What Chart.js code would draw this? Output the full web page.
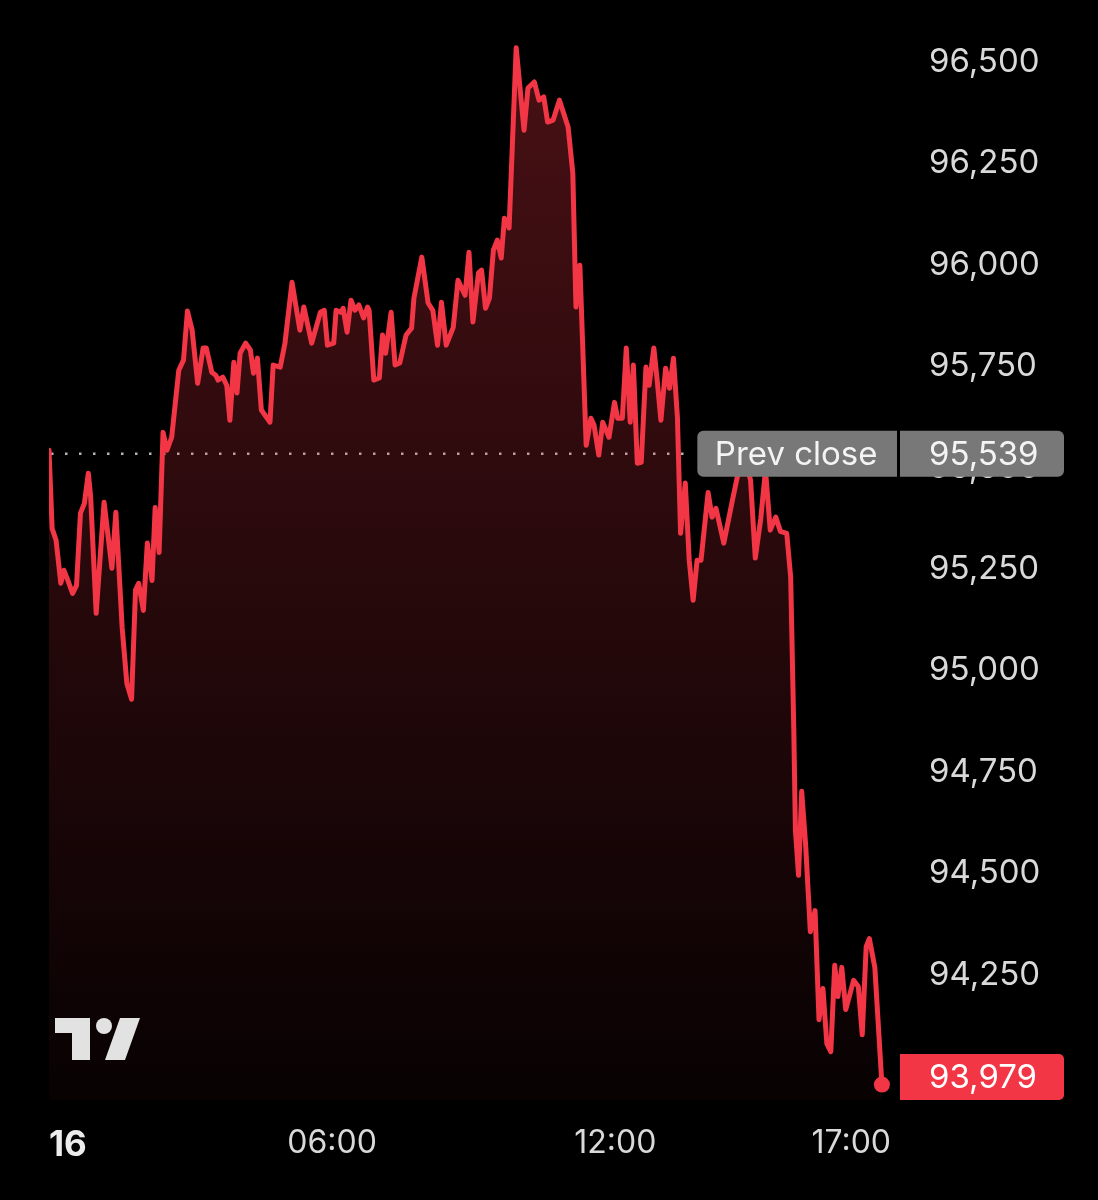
<!DOCTYPE html>
<html>
<head>
<meta charset="utf-8">
<script src="https://cdn.jsdelivr.net/npm/chart.js@4.4.1/dist/chart.umd.min.js"></script>
<style>
html,body{margin:0;padding:0;background:#000;}
#wrap{width:1098px;height:1200px;position:relative;}
</style>
</head>
<body>
<div id="wrap"><canvas id="c" width="1098" height="1200"></canvas></div>
<script>
// minutes since 00:00 on the 16th
const times = [0,4,9,15,19,24,30,35,40,45,
50,53,60,70,80,85,93,99,105,110,
114,120,125,131,135,140,145,150,156,165,
171,176,182,189,196,200,207,212,215,221,
226,230,235,239,243,250,256,260,265,270,
281,285,294,300,309,319,324,334,345,350,
354,362,365,371,374,379,384,389,394,400,
405,407,413,420,424,428,435,440,446,454,
461,464,474,482,488,494,499,505,514,520,
529,534,539,546,550,555,560,565,570,575,
579,585,594,604,609,617,623,629,634,641,
649,660,666,670,675,683,689,693,699,704,
712,719,723,729,734,739,743,748,753,759,
763,769,773,778,784,789,794,799,803,809,
814,819,824,829,838,843,848,858,869,877,
884,892,898,905,911,917,924,930,938,943,
947,949,953,957,962,968,974,979,984,989,
994,999,1003,1008,1013,1023,1029,1034,1039,1043,
1050,1059];
const prices = [95543,95350,95321,95215,95247,95222,95190,95210,95388,95412,
95486,95427,95141,95415,95252,95390,95106,94968,94929,95198,
95215,95148,95314,95222,95402,95291,95587,95543,95575,95740,
95765,95886,95839,95708,95795,95795,95735,95728,95716,95723,
95703,95617,95760,95684,95782,95807,95790,95733,95770,95642,
95612,95753,95748,95807,95957,95839,95896,95807,95883,95888,
95802,95807,95888,95883,95893,95834,95913,95888,95901,95869,
95896,95888,95716,95721,95827,95782,95883,95753,95758,95827,
95844,95918,96019,95906,95888,95802,95908,95802,95846,95962,
95925,96031,95859,95980,95987,95893,95918,96036,96061,96017,
96115,96091,96535,96332,96436,96451,96406,96414,96352,96357,
96406,96340,96226,95896,95999,95555,95622,95605,95531,95612,
95575,95661,95622,95622,95795,95612,95753,95511,95513,95748,
95703,95795,95721,95617,95745,95696,95770,95624,95338,95462,
95272,95173,95272,95272,95439,95378,95400,95314,95420,95494,
95531,95469,95277,95375,95494,95346,95378,95343,95338,95230,
94852,94608,94495,94702,94571,94356,94408,94139,94216,94080,
94060,94273,94196,94268,94164,94236,94221,94102,94319,94339,
94268,93979];
const prevClose = 95539;
const lastPrice = 93979;
const prevCloseLabel = 'Prev close';
const xTickValues = [0, 360, 720, 1020, 1082];
const xTickLabels = ['16', '06:00', '12:00', '17:00', ''];
const yTickValues = [94250, 94500, 94750, 95000, 95250, 95500, 95750, 96000, 96250, 96500];
const X_MAX = 1082, Y_MIN = 93941, Y_MAX = 96653;
const RED = '#f23645';
const FONT = 'Inter, "Noto Sans", sans-serif';
const fmt = v => Number(v).toLocaleString('en-US');

Chart.defaults.font.family = FONT;

const bgPlugin = {
  id: 'bg',
  beforeDraw(chart) {
    const ctx = chart.ctx;
    ctx.save();
    ctx.fillStyle = '#000';
    ctx.fillRect(0, 0, chart.width, chart.height);
    ctx.restore();
  }
};

function prevBoxGeom(chart) {
  const ctx = chart.ctx;
  ctx.save();
  ctx.font = '33px ' + FONT;
  const w = ctx.measureText(prevCloseLabel).width;
  ctx.restore();
  const partRight = chart.chartArea.right - 3;
  const left = partRight - w - 37;
  return {left, partRight, w};
}

const prevLinePlugin = {
  id: 'prevLine',
  beforeDatasetsDraw(chart) {
    const ctx = chart.ctx, a = chart.chartArea;
    const y = chart.scales.y.getPixelForValue(prevClose) + 2;
    const g = prevBoxGeom(chart);
    ctx.save();
    ctx.setLineDash([2.5, 11.5]);
    ctx.lineWidth = 2.5;
    ctx.strokeStyle = '#b4b4b4';
    ctx.beginPath();
    ctx.moveTo(a.left + 2, y);
    ctx.lineTo(g.left - 3, y);
    ctx.stroke();
    ctx.restore();
  }
};

const overlayPlugin = {
  id: 'overlay',
  afterDraw(chart) {
    const ctx = chart.ctx, a = chart.chartArea;
    const rightEdge = chart.width - 34;
    const labelX = a.right + 29;
    const h = 46;
    // Prev close box
    const yp = chart.scales.y.getPixelForValue(prevClose) + 2;
    const g = prevBoxGeom(chart);
    ctx.save();
    ctx.fillStyle = '#000';
    ctx.fillRect(g.partRight, yp - h / 2, 3, h);
    ctx.fillStyle = '#787878';
    ctx.beginPath();
    ctx.roundRect(g.left, yp - h / 2, g.partRight - g.left, h, [6, 0, 0, 6]);
    ctx.fill();
    ctx.beginPath();
    ctx.roundRect(g.partRight + 3, yp - h / 2, rightEdge - g.partRight - 3, h, [0, 6, 6, 0]);
    ctx.fill();
    ctx.fillStyle = '#f4f4f4';
    ctx.font = '33px ' + FONT;
    ctx.textBaseline = 'middle';
    ctx.textAlign = 'center';
    ctx.fillText(prevCloseLabel, (g.left + g.partRight) / 2 - 1, yp + 1);
    ctx.textAlign = 'left';
    ctx.fillText(fmt(prevClose), labelX, yp + 1);
    // Last price box
    let yl = chart.scales.y.getPixelForValue(lastPrice);
    yl = Math.min(yl, a.bottom - h / 2);
    ctx.fillStyle = RED;
    ctx.beginPath();
    ctx.roundRect(a.right, yl - h / 2, rightEdge - a.right, h, [0, 5, 5, 0]);
    ctx.fill();
    ctx.fillStyle = '#ffffff';
    ctx.textAlign = 'left';
    ctx.fillText(fmt(lastPrice), labelX, yl + 1);
    // TradingView logo
    ctx.fillStyle = '#e2e2e2';
    ctx.fillRect(55, 1018, 35, 15);
    ctx.fillRect(72, 1018, 18, 42);
    ctx.beginPath();
    ctx.arc(104, 1026, 8, 0, Math.PI * 2);
    ctx.fill();
    ctx.beginPath();
    ctx.moveTo(120, 1018);
    ctx.lineTo(140, 1018);
    ctx.lineTo(125, 1060);
    ctx.lineTo(105, 1060);
    ctx.closePath();
    ctx.fill();
    ctx.restore();
  }
};

const ctx = document.getElementById('c').getContext('2d');
new Chart(ctx, {
  type: 'line',
  data: {
    datasets: [{
      data: times.map((t, i) => ({x: t, y: prices[i]})),
      borderColor: RED,
      borderWidth: 5,
      borderJoinStyle: 'round',
      borderCapStyle: 'round',
      tension: 0,
      fill: 'start',
      backgroundColor: (c) => {
        const a = c.chart.chartArea;
        if (!a) return 'rgba(242,54,69,0.12)';
        const gr = c.chart.ctx.createLinearGradient(0, a.top, 0, a.bottom);
        gr.addColorStop(0, 'rgba(242,54,69,0.31)');
        gr.addColorStop(1, 'rgba(242,54,69,0.03)');
        return gr;
      },
      pointRadius: (c) => c.dataIndex === times.length - 1 ? 8 : 0,
      pointBackgroundColor: RED,
      pointBorderWidth: 0,
      pointHoverRadius: 0
    }]
  },
  options: {
    responsive: false,
    animation: false,
    events: [],
    layout: {autoPadding: false, padding: {left: 49, right: 0, top: 0, bottom: 0}},
    plugins: {legend: {display: false}, tooltip: {enabled: false}},
    scales: {
      x: {
        type: 'linear', min: 0, max: X_MAX,
        grid: {display: false, drawTicks: false},
        border: {display: false},
        afterBuildTicks: s => { s.ticks = xTickValues.map(v => ({value: v})); },
        afterFit: s => { s.height = 100; s.paddingLeft = 0; s.paddingRight = 0; },
        ticks: {
          autoSkip: false, maxRotation: 0, minRotation: 0, align: 'inner', padding: 24,
          color: c => c.index === 0 ? '#ececec' : '#d9d9d9',
          font: c => ({family: FONT, size: c.index === 0 ? 35 : 32, weight: c.index === 0 ? '700' : '400'}),
          callback: (v, i) => xTickLabels[i]
        }
      },
      y: {
        position: 'right', min: Y_MIN, max: Y_MAX,
        grid: {display: false, drawTicks: false},
        border: {display: false},
        afterBuildTicks: s => { s.ticks = yTickValues.map(v => ({value: v})); },
        afterFit: s => { s.width = 198; s.paddingTop = 0; s.paddingBottom = 0; },
        ticks: {
          padding: 29, color: '#d9d9d9', font: {family: FONT, size: 33},
          callback: v => fmt(v)
        }
      }
    }
  },
  plugins: [bgPlugin, prevLinePlugin, overlayPlugin]
});
</script>
</body>
</html>
